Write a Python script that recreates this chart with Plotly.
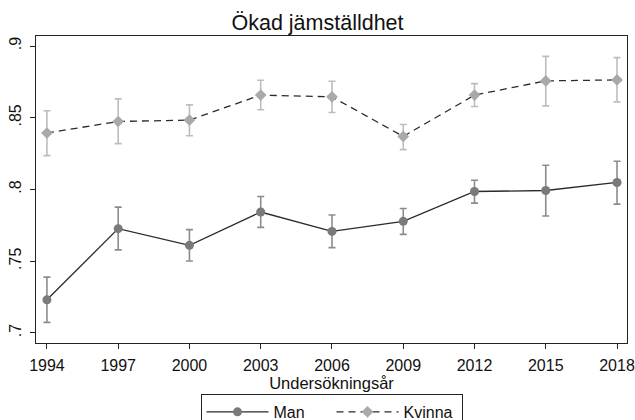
import plotly.graph_objects as go

years = [1994, 1997, 2000, 2003, 2006, 2009, 2012, 2015, 2018]

man = [0.7231, 0.7727, 0.7611, 0.7843, 0.7708, 0.7778, 0.7986, 0.7993, 0.8049]
man_hi = [0.7389, 0.7877, 0.7720, 0.7951, 0.7822, 0.7868, 0.8065, 0.8169, 0.8197]
man_lo = [0.7074, 0.7579, 0.7502, 0.7736, 0.7595, 0.7687, 0.7905, 0.7815, 0.7898]

kvinna = [0.8394, 0.8474, 0.8484, 0.8658, 0.8646, 0.8370, 0.8658, 0.8757, 0.8764]
kvinna_hi = [0.8549, 0.8632, 0.8590, 0.8762, 0.8755, 0.8453, 0.8738, 0.8928, 0.8919]
kvinna_lo = [0.8236, 0.8320, 0.8375, 0.8556, 0.8537, 0.8278, 0.8579, 0.8583, 0.8611]

y_ticks = [0.7, 0.75, 0.8, 0.85, 0.9]
y_labels = [".7", ".75", ".8", ".85", ".9"]

FONT = "Liberation Sans, Arial, Helvetica, sans-serif"

W, H = 635, 420

fig = go.Figure()

fig.add_trace(go.Scatter(
    x=years, y=man, name="Man", mode="lines+markers",
    line=dict(color="#2a2a2a", width=1.3),
    marker=dict(symbol="circle", size=9, color="#7a7a7a"),
    error_y=dict(type="data", symmetric=False,
                 array=[h - v for h, v in zip(man_hi, man)],
                 arrayminus=[v - l for l, v in zip(man_lo, man)],
                 color="#8c8c8c", thickness=1.6, width=3.5),
))

fig.add_trace(go.Scatter(
    x=years, y=kvinna, name="Kvinna", mode="lines+markers",
    line=dict(color="#2a2a2a", width=1.3, dash="7px,5px"),
    marker=dict(symbol="diamond", size=9, color="#a9a9a9"),
    error_y=dict(type="data", symmetric=False,
                 array=[h - v for h, v in zip(kvinna_hi, kvinna)],
                 arrayminus=[v - l for l, v in zip(kvinna_lo, kvinna)],
                 color="#bdbdbd", thickness=1.6, width=3.5),
))

fig.update_layout(
    width=W, height=H,
    margin=dict(l=36, r=8, t=36, b=77, autoexpand=False),
    paper_bgcolor="white", plot_bgcolor="white",
    font=dict(family=FONT, color="#111", size=16),
    title=dict(text="Ökad jämställdhet", x=0.5, xanchor="center",
               y=1 - 22 / H, yanchor="middle",
               font=dict(size=21.5, family=FONT, color="#111")),
    showlegend=True,
    legend=dict(orientation="h", x=0.5, xanchor="center", y=-0.166, yanchor="top",
                bordercolor="#222", borderwidth=1, bgcolor="white",
                font=dict(size=16, family=FONT), itemwidth=62, entrywidth=53),
)

fig.update_xaxes(
    range=[1993.54, 2018.42], tickvals=years, ticktext=[str(y) for y in years],
    showline=True, linecolor="#222", linewidth=1.2, mirror=True,
    ticks="outside", ticklen=5, tickcolor="#222", showgrid=False, zeroline=False,
    title=dict(text="Undersökningsår", standoff=0, font=dict(size=16.5)),
    tickfont=dict(size=16), ticklabeloverflow="allow", ticklabelstandoff=3,
)
fig.update_yaxes(
    range=[0.693, 0.907], tickvals=y_ticks, ticktext=y_labels, tickangle=-90,
    showline=True, linecolor="#222", linewidth=1.2, mirror=True,
    ticks="outside", ticklen=5, tickcolor="#222", showgrid=False, zeroline=False,
    tickfont=dict(size=16), ticklabelstandoff=3,
)

fig.write_html(
    "out.html",
    config={"displayModeBar": False},
    post_script="document.documentElement.style.margin='0';"
                "document.body.style.margin='0';"
                "document.body.style.overflow='hidden';",
)
